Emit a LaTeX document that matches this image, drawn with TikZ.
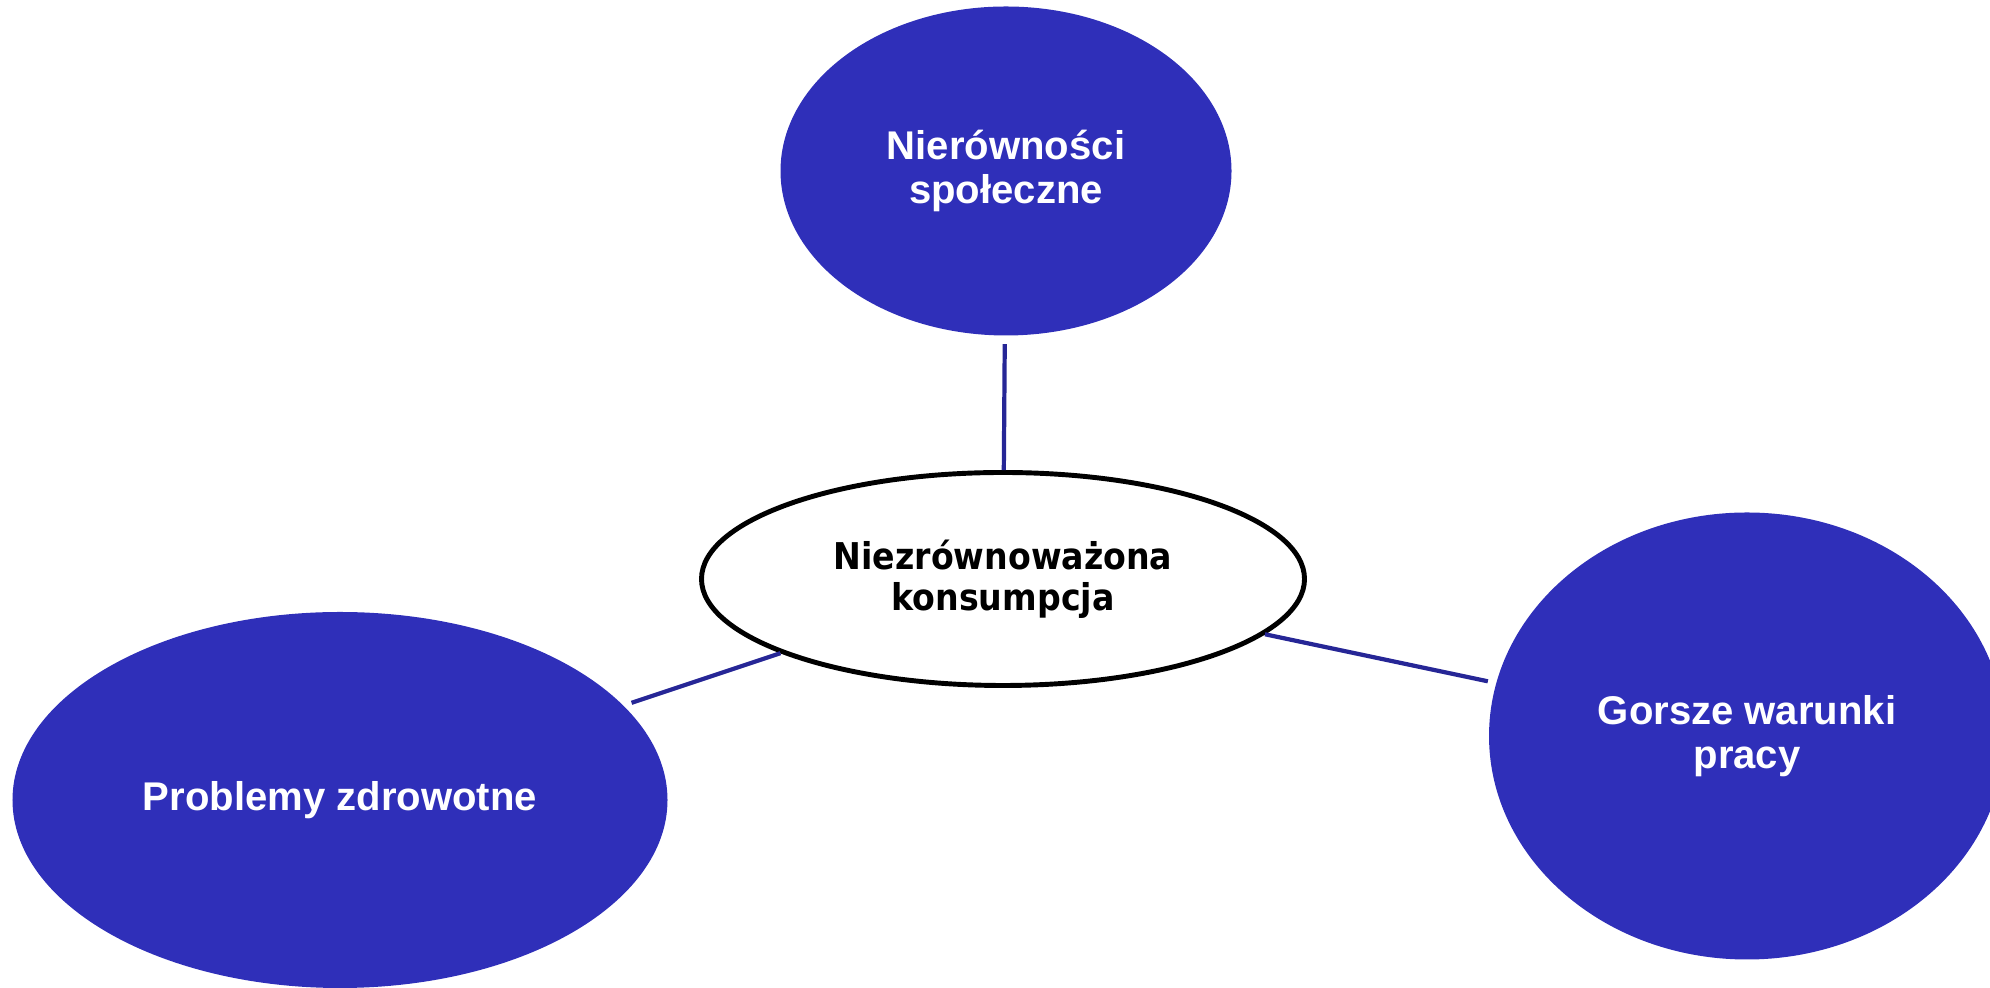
\documentclass[tikz,border=0pt]{standalone}
\usepackage{fontspec}
\setmainfont{Liberation Sans}
\newfontfamily\midfont{DejaVu Sans Condensed}
\usetikzlibrary{shapes.geometric}
\definecolor{bubbleblue}{RGB}{47,47,185}
\definecolor{linkblue}{RGB}{38,38,150}
\tikzset{
	bubble/.style={ellipse, fill=bubbleblue, inner sep=0pt, align=center, text=white,
		font=\fontsize{11.4}{12.6}\selectfont\bfseries},
	hub/.style={ellipse, draw=black, line width=1.4pt, fill=white, inner sep=0pt, align=center,
		font=\midfont\fontsize{10.5}{11.7}\selectfont\bfseries},
	link/.style={draw=linkblue, line width=1.2pt, shorten >=0.08cm}
}

\begin{document}
\begin{tikzpicture}
			%%%%% START %%%%%
			
			\useasboundingbox (0, 0) rectangle (19.9, 9.88);
			
			\node[hub, minimum width=6.03cm, minimum height=2.13cm] (mid) at (10.03, 4.09) {Niezrównoważona\\konsumpcja};
			
			\node[bubble, minimum width=4.51cm, minimum height=3.29cm] (social) at (10.06, 8.17) {Nierówności\\społeczne};
			\node[bubble, minimum width=6.55cm, minimum height=3.76cm] (health) at (3.40, 1.88) {Problemy zdrowotne};
			\node[bubble, minimum width=5.16cm, minimum height=4.47cm] (work) at (17.47, 2.52) {Gorsze warunki\\pracy};
			
			\draw[link] (mid) -- (social);
			\draw[link] (mid) -- (health);
			\draw[link] (mid) -- (work);
			
			%%%%% END %%%%%
\end{tikzpicture}
\end{document}
